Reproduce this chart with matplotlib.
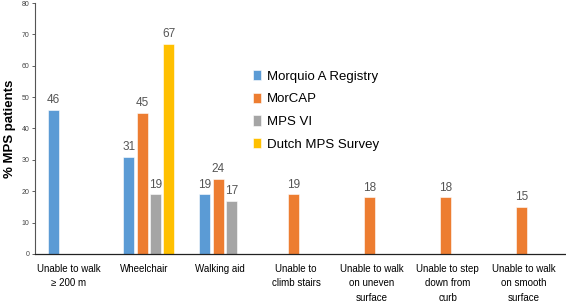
import numpy as np
import matplotlib
matplotlib.use("Agg")
import matplotlib.pyplot as plt

plt.rcParams['font.family'] = ['Liberation Sans', 'DejaVu Sans']

# data
categories = ["Unable to walk\n\u2265 200 m", "Wheelchair", "Walking aid",
              "Unable to\nclimb stairs", "Unable to walk\non uneven\nsurface",
              "Unable to step\ndown from\ncurb", "Unable to walk\non smooth\nsurface"]
series = ["Morquio A Registry", "MorCAP", "MPS VI", "Dutch MPS Survey"]
registry = [46, 31, 19, None, None, None, None]
morcap = [None, 45, 24, 19, 18, 18, 15]
mps6 = [None, 19, 17, None, None, None, None]
dutch = [None, 67, None, None, None, None, None]
colors = ["#5B9BD5", "#ED7D31", "#A5A5A5", "#FFC000"]
yticks = list(range(0, 81, 10))

fig = plt.figure(figsize=(5.66, 3.03), dpi=100)
ax = fig.add_axes([0.062, 0.162, 0.938, 0.828])

x = np.arange(len(categories))
slot = 0.175
width = 0.145
for k, (name, vals, col) in enumerate(zip(series, [registry, morcap, mps6, dutch], colors)):
    xs = [x[i] + (k - 1.5) * slot for i, v in enumerate(vals) if v is not None]
    ys = [v for v in vals if v is not None]
    bars = ax.bar(xs, ys, width=width, color=col, label=name, edgecolor="white", linewidth=0.4)
    for b, v in zip(bars, ys):
        ax.text(b.get_x() + b.get_width() / 2, v + 1.2, str(v), ha="center", va="bottom",
                fontsize=8.5, color="#555555")

ax.set_xlim(-0.5, len(categories) - 0.5)
ax.set_ylim(0, 80)
ax.set_yticks(yticks)
ax.tick_params(axis="y", labelsize=5, colors="#444444", length=2, width=0.6, pad=2)
ax.set_xticks(x - 0.06)
ax.set_xticklabels(categories, fontsize=7, linespacing=1.6, va="top")
ax.tick_params(axis="x", length=0, pad=7)
ax.set_ylabel("% MPS patients", fontsize=9.5, fontweight="bold", labelpad=4)

for s in ["top", "right"]:
    ax.spines[s].set_visible(False)
ax.spines["left"].set_color("#555555")
ax.spines["left"].set_linewidth(0.8)
ax.spines["bottom"].set_color("#222222")
ax.spines["bottom"].set_linewidth(0.9)

ax.legend(loc="upper left", bbox_to_anchor=(0.4, 0.755), frameon=False, fontsize=9.5,
          handlelength=0.65, handleheight=0.85, handletextpad=0.45, labelspacing=0.75,
          borderaxespad=0)

fig.savefig("out.png", dpi=100)
